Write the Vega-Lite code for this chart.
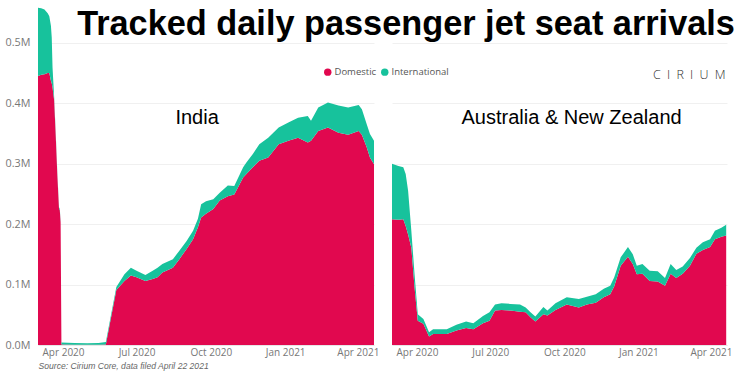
{
  "$schema": "https://vega.github.io/schema/vega-lite/v6.json",
  "background": "white",
  "padding": {"left": 5, "top": 7, "right": 5, "bottom": 5},
  "config": {"view": {"stroke": null}, "font": "Open Sans"},
  "title": {
    "text": "Tracked daily passenger jet seat arrivals",
    "anchor": "end",
    "font": "Liberation Sans",
    "fontSize": 34.3,
    "fontWeight": "bold",
    "color": "#000000",
    "offset": -74,
    "dx": 3,
    "subtitle": "C\u2002I\u2002R\u2002I\u2002U\u2002M\u2002\u2005\u200B",
    "subtitleFont": "Open Sans",
    "subtitleFontWeight": 300,
    "subtitleFontSize": 12.5,
    "subtitleColor": "#333333",
    "subtitlePadding": 27
  },
  "datasets": {
    "india": [
      {"d": "2020-03-01", "Domestic": 445000, "International": 113000},
      {"d": "2020-03-05", "Domestic": 447000, "International": 110000},
      {"d": "2020-03-09", "Domestic": 448000, "International": 107000},
      {"d": "2020-03-13", "Domestic": 450000, "International": 99000},
      {"d": "2020-03-15", "Domestic": 450000, "International": 94000},
      {"d": "2020-03-17", "Domestic": 437000, "International": 91000},
      {"d": "2020-03-18", "Domestic": 433000, "International": 76000},
      {"d": "2020-03-19", "Domestic": 426000, "International": 33000},
      {"d": "2020-03-21", "Domestic": 405000, "International": 5000},
      {"d": "2020-03-23", "Domestic": 345000, "International": 4000},
      {"d": "2020-03-25", "Domestic": 280000, "International": 3000},
      {"d": "2020-03-27", "Domestic": 226000, "International": 2000},
      {"d": "2020-03-28", "Domestic": 223000, "International": 2000},
      {"d": "2020-03-29", "Domestic": 203000, "International": 2000},
      {"d": "2020-03-30", "Domestic": 1000, "International": 3000},
      {"d": "2020-04-15", "Domestic": 500, "International": 3000},
      {"d": "2020-05-01", "Domestic": 500, "International": 2500},
      {"d": "2020-05-15", "Domestic": 500, "International": 3000},
      {"d": "2020-05-24", "Domestic": 1000, "International": 4000},
      {"d": "2020-06-06", "Domestic": 91000, "International": 5000},
      {"d": "2020-06-16", "Domestic": 106000, "International": 11000},
      {"d": "2020-06-24", "Domestic": 115000, "International": 13000},
      {"d": "2020-07-01", "Domestic": 112000, "International": 11000},
      {"d": "2020-07-12", "Domestic": 106000, "International": 10000},
      {"d": "2020-07-21", "Domestic": 109000, "International": 14000},
      {"d": "2020-07-27", "Domestic": 112000, "International": 16000},
      {"d": "2020-08-02", "Domestic": 120000, "International": 14000},
      {"d": "2020-08-15", "Domestic": 128000, "International": 14000},
      {"d": "2020-08-23", "Domestic": 142000, "International": 14000},
      {"d": "2020-09-01", "Domestic": 159000, "International": 13000},
      {"d": "2020-09-09", "Domestic": 175000, "International": 14000},
      {"d": "2020-09-15", "Domestic": 195000, "International": 14000},
      {"d": "2020-09-19", "Domestic": 211000, "International": 22000},
      {"d": "2020-09-25", "Domestic": 217000, "International": 21000},
      {"d": "2020-10-04", "Domestic": 225000, "International": 16000},
      {"d": "2020-10-12", "Domestic": 239000, "International": 13000},
      {"d": "2020-10-22", "Domestic": 246000, "International": 18000},
      {"d": "2020-10-30", "Domestic": 249000, "International": 14000},
      {"d": "2020-11-10", "Domestic": 277000, "International": 17000},
      {"d": "2020-11-14", "Domestic": 283000, "International": 19000},
      {"d": "2020-11-22", "Domestic": 294000, "International": 22000},
      {"d": "2020-11-30", "Domestic": 305000, "International": 27000},
      {"d": "2020-12-11", "Domestic": 310000, "International": 33000},
      {"d": "2020-12-24", "Domestic": 332000, "International": 28000},
      {"d": "2021-01-05", "Domestic": 338000, "International": 30000},
      {"d": "2021-01-17", "Domestic": 343000, "International": 33000},
      {"d": "2021-01-29", "Domestic": 335000, "International": 44000},
      {"d": "2021-02-02", "Domestic": 338000, "International": 33000},
      {"d": "2021-02-11", "Domestic": 354000, "International": 39000},
      {"d": "2021-02-23", "Domestic": 360000, "International": 41000},
      {"d": "2021-03-08", "Domestic": 351000, "International": 45000},
      {"d": "2021-03-20", "Domestic": 348000, "International": 45000},
      {"d": "2021-04-02", "Domestic": 354000, "International": 43000},
      {"d": "2021-04-06", "Domestic": 348000, "International": 42000},
      {"d": "2021-04-12", "Domestic": 327000, "International": 38000},
      {"d": "2021-04-16", "Domestic": 310000, "International": 39000},
      {"d": "2021-04-21", "Domestic": 299000, "International": 39000}
    ],
    "anz": [
      {"d": "2020-03-01", "Domestic": 208000, "International": 92000},
      {"d": "2020-03-09", "Domestic": 207000, "International": 89000},
      {"d": "2020-03-15", "Domestic": 208000, "International": 86000},
      {"d": "2020-03-18", "Domestic": 197000, "International": 86000},
      {"d": "2020-03-21", "Domestic": 183000, "International": 72000},
      {"d": "2020-03-25", "Domestic": 161000, "International": 28000},
      {"d": "2020-03-29", "Domestic": 95000, "International": 22000},
      {"d": "2020-04-02", "Domestic": 40000, "International": 11000},
      {"d": "2020-04-09", "Domestic": 35000, "International": 8000},
      {"d": "2020-04-16", "Domestic": 14000, "International": 7000},
      {"d": "2020-04-21", "Domestic": 18000, "International": 8000},
      {"d": "2020-05-08", "Domestic": 18000, "International": 8000},
      {"d": "2020-05-20", "Domestic": 24000, "International": 9500},
      {"d": "2020-06-01", "Domestic": 28000, "International": 11000},
      {"d": "2020-06-10", "Domestic": 26000, "International": 10000},
      {"d": "2020-06-22", "Domestic": 36000, "International": 12000},
      {"d": "2020-06-30", "Domestic": 40000, "International": 14000},
      {"d": "2020-07-07", "Domestic": 57000, "International": 10000},
      {"d": "2020-07-15", "Domestic": 58000, "International": 11000},
      {"d": "2020-07-26", "Domestic": 57000, "International": 11000},
      {"d": "2020-08-07", "Domestic": 55000, "International": 12000},
      {"d": "2020-08-14", "Domestic": 54000, "International": 8000},
      {"d": "2020-08-20", "Domestic": 46000, "International": 8000},
      {"d": "2020-08-26", "Domestic": 39000, "International": 8000},
      {"d": "2020-09-05", "Domestic": 51000, "International": 12000},
      {"d": "2020-09-10", "Domestic": 49000, "International": 8000},
      {"d": "2020-09-20", "Domestic": 58000, "International": 11000},
      {"d": "2020-10-04", "Domestic": 67000, "International": 12000},
      {"d": "2020-10-19", "Domestic": 62000, "International": 14000},
      {"d": "2020-10-29", "Domestic": 67000, "International": 13000},
      {"d": "2020-11-09", "Domestic": 70000, "International": 14000},
      {"d": "2020-11-19", "Domestic": 79000, "International": 14000},
      {"d": "2020-11-27", "Domestic": 84000, "International": 14000},
      {"d": "2020-12-02", "Domestic": 97000, "International": 15000},
      {"d": "2020-12-10", "Domestic": 131000, "International": 14000},
      {"d": "2020-12-19", "Domestic": 146000, "International": 16000},
      {"d": "2020-12-25", "Domestic": 134000, "International": 16000},
      {"d": "2020-12-30", "Domestic": 117000, "International": 14000},
      {"d": "2021-01-06", "Domestic": 118000, "International": 16000},
      {"d": "2021-01-15", "Domestic": 106000, "International": 17000},
      {"d": "2021-01-25", "Domestic": 105000, "International": 17000},
      {"d": "2021-02-03", "Domestic": 98000, "International": 13000},
      {"d": "2021-02-10", "Domestic": 118000, "International": 16000},
      {"d": "2021-02-17", "Domestic": 111000, "International": 13000},
      {"d": "2021-02-25", "Domestic": 118000, "International": 12000},
      {"d": "2021-03-06", "Domestic": 131000, "International": 13000},
      {"d": "2021-03-14", "Domestic": 151000, "International": 10000},
      {"d": "2021-03-22", "Domestic": 157000, "International": 13000},
      {"d": "2021-03-31", "Domestic": 162000, "International": 13000},
      {"d": "2021-04-06", "Domestic": 175000, "International": 14000},
      {"d": "2021-04-14", "Domestic": 179000, "International": 15000},
      {"d": "2021-04-20", "Domestic": 181000, "International": 18000}
    ]
  },
  "spacing": 13,
  "resolve": {"scale": {"color": "shared"}, "legend": {"color": "shared"}},
  "hconcat": [
    {
      "width": 336,
      "height": 337,
      "layer": [
        {
          "data": {"name": "india"},
          "transform": [{"fold": ["Domestic", "International"], "as": ["type", "value"]}],
          "mark": {"type": "area", "interpolate": "linear"},
          "encoding": {
            "x": {
              "field": "d", "type": "temporal",
              "scale": {"domain": [{"year": 2020, "month": "mar", "date": 1}, {"year": 2021, "month": "apr", "date": 21}]},
              "axis": {
                "values": [{"year": 2020, "month": "apr", "date": 1}, {"year": 2020, "month": "jul", "date": 1}, {"year": 2020, "month": "oct", "date": 1}, {"year": 2021, "month": "jan", "date": 1}, {"year": 2021, "month": "apr", "date": 1}],
                "format": "%b %Y", "grid": false, "ticks": false, "domainColor": "#e6e6e6",
                "labelColor": "#777777", "labelFontSize": 10, "labelFont": "Open Sans", "labelPadding": 2,
                "labelFlush": false, "labelOverlap": false, "labelBound": false,
                "title": "Source: Cirium Core, data filed April 22 2021",
                "titleAnchor": "start", "titleFontStyle": "italic", "titleFontWeight": "normal",
                "titleFont": "Liberation Sans", "titleFontSize": 8.6, "titleColor": "#666666", "titlePadding": 4
              }
            },
            "y": {
              "field": "value", "type": "quantitative", "stack": "zero",
              "scale": {"domain": [0, 557500], "nice": false},
              "axis": {
                "values": [0, 100000, 200000, 300000, 400000, 500000],
                "labelExpr": "format(datum.value / 1000000, '.1f') + 'M'",
                "title": null, "ticks": false, "domain": false, "gridColor": "#f0f0f0",
                "labelColor": "#777777", "labelFontSize": 10.8, "labelFont": "Open Sans", "labelPadding": 8
              }
            },
            "color": {
              "field": "type", "type": "nominal",
              "scale": {"domain": ["Domestic", "International"], "range": ["#E1084F", "#17C29C"]},
              "legend": {
                "orient": "none", "direction": "horizontal", "legendX": 285, "legendY": 59,
                "title": null, "symbolType": "circle", "symbolSize": 55, "symbolOpacity": 1, "symbolStrokeWidth": 0,
                "labelFontSize": 9.5, "labelColor": "#555555", "labelFont": "Open Sans",
                "columnPadding": 3, "labelOffset": 2
              }
            },
            "order": {"field": "type", "sort": "ascending"}
          }
        },
        {
          "data": {"values": [{}]},
          "mark": {"type": "text", "font": "Liberation Sans", "fontSize": 20, "color": "#000000", "align": "center", "baseline": "alphabetic"},
          "encoding": {
            "x": {"datum": {"year": 2020, "month": "sep", "date": 14}, "type": "temporal"},
            "y": {"datum": 365000, "type": "quantitative"},
            "text": {"value": "India"}
          }
        }
      ]
    },
    {
      "width": 335,
      "height": 337,
      "layer": [
        {
          "data": {"name": "anz"},
          "transform": [{"fold": ["Domestic", "International"], "as": ["type", "value"]}],
          "mark": {"type": "area", "interpolate": "linear"},
          "encoding": {
            "x": {
              "field": "d", "type": "temporal",
              "scale": {"domain": [{"year": 2020, "month": "mar", "date": 1}, {"year": 2021, "month": "apr", "date": 21}]},
              "axis": {
                "values": [{"year": 2020, "month": "apr", "date": 1}, {"year": 2020, "month": "jul", "date": 1}, {"year": 2020, "month": "oct", "date": 1}, {"year": 2021, "month": "jan", "date": 1}, {"year": 2021, "month": "apr", "date": 1}],
                "format": "%b %Y", "grid": false, "ticks": false, "domainColor": "#e6e6e6",
                "labelColor": "#777777", "labelFontSize": 10, "labelFont": "Open Sans", "labelPadding": 2,
                "labelFlush": false, "labelOverlap": false, "labelBound": false,
                "title": null
              }
            },
            "y": {
              "field": "value", "type": "quantitative", "stack": "zero",
              "scale": {"domain": [0, 557500], "nice": false},
              "axis": {
                "values": [0, 100000, 200000, 300000, 400000, 500000],
                "labels": false, "title": null, "ticks": false, "domain": false, "gridColor": "#f0f0f0"
              }
            },
            "color": {
              "field": "type", "type": "nominal",
              "scale": {"domain": ["Domestic", "International"], "range": ["#E1084F", "#17C29C"]}
            },
            "order": {"field": "type", "sort": "ascending"}
          }
        },
        {
          "data": {"values": [{}]},
          "mark": {"type": "text", "font": "Liberation Sans", "fontSize": 20, "color": "#000000", "align": "center", "baseline": "alphabetic"},
          "encoding": {
            "x": {"datum": {"year": 2020, "month": "oct", "date": 10}, "type": "temporal"},
            "y": {"datum": 365000, "type": "quantitative"},
            "text": {"value": "Australia & New Zealand"}
          }
        }
      ]
    }
  ]
}
